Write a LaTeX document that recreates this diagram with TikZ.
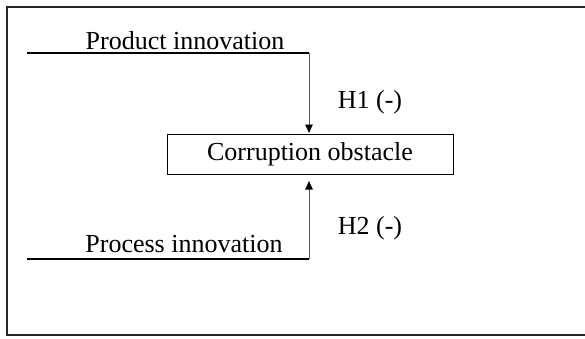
\documentclass[tikz,border=0pt]{standalone}
\usepackage{fontspec}
\setmainfont{Liberation Serif}
\usetikzlibrary{positioning,arrows.meta,calc}
\tikzset{
    %Define standard arrow tip
    >={Triangle[length=8.5pt,width=7.5pt,black]},
    % Define arrow style
    pil/.style={
           ->,
           line width=0.8pt,
           black!65,}
}
\newcommand{\labsize}{\fontsize{26}{30}\selectfont}

\begin{document}
\begin{tikzpicture}[x=1pt, y=1pt, outer sep=0pt]
\tikzstyle{obst}=[ draw,
                  line width=1pt,
                  rectangle,
                  minimum height=40pt, minimum width=286pt,
                  font=\labsize]
\tikzstyle{var}=[ inner sep=0pt,
                  anchor=base,
                  font=\labsize]
\tikzstyle{hyp}=[ inner sep=0pt,
                  font=\labsize]
\tikzstyle{bar}=[ line width=1.6pt]

\useasboundingbox (0,0) rectangle (585,338);
\draw[line width=2pt, black!85] (585,331) -- (7,331) -- (7,3) -- (585,3);

\node[obst] (corr) at (310,184) {Corruption obstacle};
\node[var]  (prod) at (185,288) {Product innovation};
\node[var]  (proc) at (184,86)  {Process innovation};

\coordinate (prodin)  at (27,285);
\coordinate (prodend) at (309,285);
\coordinate (procin)  at (27,79);
\coordinate (procend) at (309,79);

\draw[bar] (prodin) -- (prodend);
\draw[bar] (procin) -- (procend);

\draw[pil, shorten >=1pt] (prodend) -- (prodend |- corr.north);
\draw[pil, shorten >=7pt] (procend) -- (procend |- corr.south);

\node[hyp] (h1) at (370,236) {H1 (-)};
\node[hyp] (h2) at (370,110) {H2 (-)};

\end{tikzpicture}
\end{document}
